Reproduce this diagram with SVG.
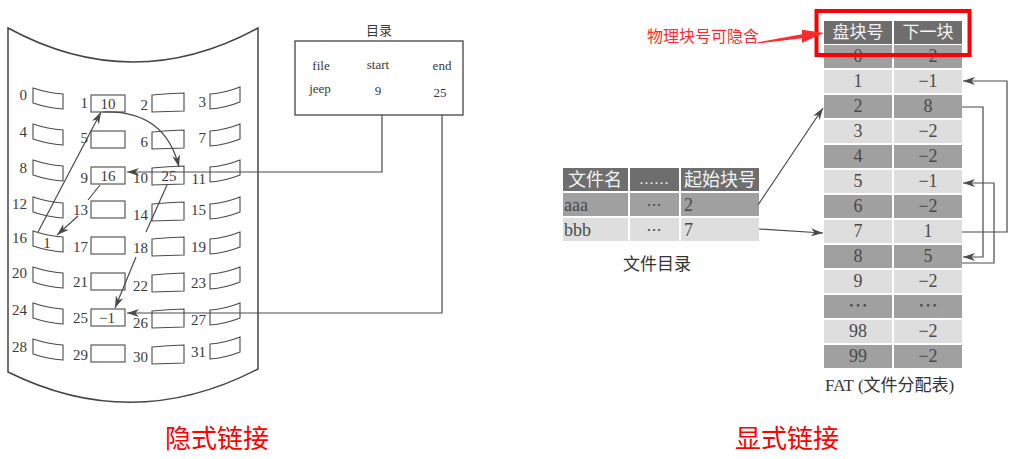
<svg xmlns="http://www.w3.org/2000/svg" width="1016" height="459" viewBox="0 0 1016 459">
<style>
.ln{fill:none;stroke:#4a4a4a;stroke-width:1.2}
.blk{fill:#fff;stroke:#4a4a4a;stroke-width:1.1}
.lab{font-family:"Liberation Serif","Noto Sans CJK SC",serif;font-size:15px;fill:#3a3a3a;text-anchor:end}
.val{font-family:"Liberation Serif","Noto Sans CJK SC",serif;font-size:15px;fill:#3a3a3a;text-anchor:middle}
.dir{font-family:"Liberation Serif","Noto Sans CJK SC",serif;font-size:13px;fill:#3a3a3a;text-anchor:middle}
.hd{fill:#6e6e6e}
.dk{fill:#a0a0a0}
.lt{fill:#dedede}
.ht{font-family:"Noto Sans CJK SC",sans-serif;font-size:17px;fill:#f4f4f4;text-anchor:middle}
.ct{font-family:"Liberation Serif","Noto Sans CJK SC",serif;font-size:18px;fill:#4a4a4a;text-anchor:middle}
.dots{font-family:"Noto Sans CJK SC",sans-serif;font-size:20px;fill:#4a4a4a;text-anchor:middle}
.cap{font-family:"Liberation Serif","Noto Sans CJK SC",serif;font-size:17px;fill:#333}
.red{font-family:"Noto Sans CJK SC",sans-serif;fill:#ff0000}
</style>
<defs>
<marker id="ah" markerUnits="userSpaceOnUse" markerWidth="12" markerHeight="8" refX="12" refY="4" orient="auto"><path d="M0,0 L12,4 L0,8 L3.5,4 Z" fill="#4a4a4a"/></marker>
<path id="b0" d="M0,0 Q15,5 30,6 L30,21 Q15,20 0,15 Z"/>
<path id="b2" d="M0,2 Q16,0.5 32,0 L32,18 Q16,18.5 0,19 Z"/>
<path id="b3" d="M0,7 Q15,6 30,0 L30,15 Q15,21 0,22 Z"/>
</defs>

<g id="disk"><path d="M8,28 Q133,96 258,28 L258,369 Q133,434 8,372 Z" fill="none" stroke="#444" stroke-width="1.5"/></g>

<g id="blk0"><use href="#b0" x="33" y="88" class="blk"/><text class="lab" x="27" y="100">0</text></g>
<g id="blk4"><use href="#b0" x="33" y="124" class="blk"/><text class="lab" x="27" y="137">4</text></g>
<g id="blk8"><use href="#b0" x="33" y="160" class="blk"/><text class="lab" x="27" y="173">8</text></g>
<g id="blk12"><use href="#b0" x="33" y="197" class="blk"/><text class="lab" x="27" y="209">12</text></g>
<g id="blk16"><use href="#b0" x="33" y="231" class="blk"/><text class="lab" x="27" y="243">16</text><text class="val" x="47" y="248">1</text></g>
<g id="blk20"><use href="#b0" x="33" y="267" class="blk"/><text class="lab" x="27" y="278">20</text></g>
<g id="blk24"><use href="#b0" x="33" y="303" class="blk"/><text class="lab" x="27" y="315">24</text></g>
<g id="blk28"><use href="#b0" x="33" y="339" class="blk"/><text class="lab" x="27" y="352">28</text></g>

<g id="blk1"><rect class="blk" x="91" y="95" width="34" height="17"/><text class="lab" x="88" y="108">1</text><text class="val" x="108" y="109">10</text></g>
<g id="blk5"><rect class="blk" x="91" y="131" width="34" height="17"/><text class="lab" x="88" y="143">5</text></g>
<g id="blk9"><rect class="blk" x="91" y="167" width="34" height="17"/><text class="lab" x="88" y="183">9</text><text class="val" x="108" y="181">16</text></g>
<g id="blk13"><rect class="blk" x="91" y="201" width="34" height="17"/><text class="lab" x="88" y="215">13</text></g>
<g id="blk17"><rect class="blk" x="91" y="237" width="34" height="17"/><text class="lab" x="88" y="252">17</text></g>
<g id="blk21"><rect class="blk" x="91" y="273" width="34" height="17"/><text class="lab" x="88" y="287">21</text></g>
<g id="blk25"><rect class="blk" x="91" y="309" width="34" height="17"/><text class="lab" x="88" y="323">25</text><text class="val" x="107" y="323">−1</text></g>
<g id="blk29"><rect class="blk" x="91" y="345" width="34" height="17"/><text class="lab" x="88" y="360">29</text></g>

<g id="blk2"><use href="#b2" x="152" y="93" class="blk"/><text class="lab" x="148" y="110">2</text></g>
<g id="blk6"><use href="#b2" x="152" y="130" class="blk"/><text class="lab" x="148" y="147">6</text></g>
<g id="blk10"><use href="#b2" x="152" y="166" class="blk"/><text class="lab" x="148" y="183">10</text><text class="val" x="169" y="181">25</text></g>
<g id="blk14"><use href="#b2" x="152" y="202" class="blk"/><text class="lab" x="148" y="220">14</text></g>
<g id="blk18"><use href="#b2" x="152" y="237" class="blk"/><text class="lab" x="148" y="253">18</text></g>
<g id="blk22"><use href="#b2" x="152" y="273" class="blk"/><text class="lab" x="148" y="291">22</text></g>
<g id="blk26"><use href="#b2" x="152" y="309" class="blk"/><text class="lab" x="148" y="328">26</text></g>
<g id="blk30"><use href="#b2" x="152" y="345" class="blk"/><text class="lab" x="148" y="362">30</text></g>

<g id="blk3"><use href="#b3" x="210" y="87" class="blk"/><text class="lab" x="206" y="107">3</text></g>
<g id="blk7"><use href="#b3" x="210" y="124" class="blk"/><text class="lab" x="206" y="143">7</text></g>
<g id="blk11"><use href="#b3" x="210" y="160" class="blk"/><text class="lab" x="206" y="184">11</text></g>
<g id="blk15"><use href="#b3" x="210" y="197" class="blk"/><text class="lab" x="206" y="215">15</text></g>
<g id="blk19"><use href="#b3" x="210" y="232" class="blk"/><text class="lab" x="206" y="252">19</text></g>
<g id="blk23"><use href="#b3" x="210" y="267" class="blk"/><text class="lab" x="206" y="288">23</text></g>
<g id="blk27"><use href="#b3" x="210" y="303" class="blk"/><text class="lab" x="206" y="325">27</text></g>
<g id="blk31"><use href="#b3" x="210" y="337" class="blk"/><text class="lab" x="206" y="357">31</text></g>

<g id="directory">
<text class="dir" x="379" y="35">目录</text>
<rect x="295" y="41" width="168" height="74" fill="#fff" stroke="#444" stroke-width="1.3"/>
<text class="dir" x="321" y="70">file</text>
<text class="dir" x="378" y="69">start</text>
<text class="dir" x="442" y="70">end</text>
<text class="dir" x="320" y="93">jeep</text>
<text class="dir" x="378" y="95">9</text>
<text class="dir" x="440" y="97">25</text>
</g>

<g id="filedir">
<rect class="hd" x="563" y="168" width="65" height="23"/>
<rect class="hd" x="630" y="168" width="49" height="23"/>
<rect class="hd" x="681" y="168" width="78" height="23"/>
<rect class="dk" x="563" y="193" width="65" height="23"/>
<rect class="dk" x="630" y="193" width="49" height="23"/>
<rect class="dk" x="681" y="193" width="78" height="23"/>
<rect class="lt" x="563" y="218" width="65" height="23"/>
<rect class="lt" x="630" y="218" width="49" height="23"/>
<rect class="lt" x="681" y="218" width="78" height="23"/>
<text class="ht" x="595" y="186" style="font-size:18px">文件名</text>
<text class="ht" x="654" y="184" style="font-family:'Liberation Serif',serif;font-size:15px">……</text>
<text class="ht" x="720" y="186" style="font-size:18px">起始块号</text>
<text class="ct" x="564" y="211" style="text-anchor:start">aaa</text>
<text class="dots" x="654" y="211" style="font-size:15px">…</text>
<text class="ct" x="684" y="211" style="text-anchor:start">2</text>
<text class="ct" x="564" y="236" style="text-anchor:start">bbb</text>
<text class="dots" x="654" y="236" style="font-size:15px">…</text>
<text class="ct" x="684" y="236" style="text-anchor:start">7</text>
<text class="cap" x="657" y="270" style="text-anchor:middle">文件目录</text>
</g>

<g id="fat">
<rect class="hd" x="824" y="21" width="68" height="23"/><rect class="hd" x="894" y="21" width="68" height="23"/>
<text class="ht" x="858" y="38">盘块号</text><text class="ht" x="928" y="38">下一块</text>
<rect class="dk" x="824" y="45" width="68" height="23"/><rect class="dk" x="894" y="45" width="68" height="23"/>
<text class="ct" x="858" y="62">0</text><text class="ct" x="928" y="62">−2</text>
<rect class="lt" x="824" y="70" width="68" height="23"/><rect class="lt" x="894" y="70" width="68" height="23"/>
<text class="ct" x="858" y="87">1</text><text class="ct" x="928" y="87">−1</text>
<rect class="dk" x="824" y="95" width="68" height="23"/><rect class="dk" x="894" y="95" width="68" height="23"/>
<text class="ct" x="858" y="112">2</text><text class="ct" x="928" y="112">8</text>
<rect class="lt" x="824" y="120" width="68" height="23"/><rect class="lt" x="894" y="120" width="68" height="23"/>
<text class="ct" x="858" y="137">3</text><text class="ct" x="928" y="137">−2</text>
<rect class="dk" x="824" y="145" width="68" height="23"/><rect class="dk" x="894" y="145" width="68" height="23"/>
<text class="ct" x="858" y="162">4</text><text class="ct" x="928" y="162">−2</text>
<rect class="lt" x="824" y="170" width="68" height="23"/><rect class="lt" x="894" y="170" width="68" height="23"/>
<text class="ct" x="858" y="187">5</text><text class="ct" x="928" y="187">−1</text>
<rect class="dk" x="824" y="195" width="68" height="23"/><rect class="dk" x="894" y="195" width="68" height="23"/>
<text class="ct" x="858" y="212">6</text><text class="ct" x="928" y="212">−2</text>
<rect class="lt" x="824" y="220" width="68" height="23"/><rect class="lt" x="894" y="220" width="68" height="23"/>
<text class="ct" x="858" y="237">7</text><text class="ct" x="928" y="237">1</text>
<rect class="dk" x="824" y="245" width="68" height="23"/><rect class="dk" x="894" y="245" width="68" height="23"/>
<text class="ct" x="858" y="262">8</text><text class="ct" x="928" y="262">5</text>
<rect class="lt" x="824" y="270" width="68" height="23"/><rect class="lt" x="894" y="270" width="68" height="23"/>
<text class="ct" x="858" y="287">9</text><text class="ct" x="928" y="287">−2</text>
<rect class="dk" x="824" y="295" width="68" height="23"/><rect class="dk" x="894" y="295" width="68" height="23"/>
<text class="dots" x="858" y="313">…</text><text class="dots" x="928" y="313">…</text>
<rect class="lt" x="824" y="320" width="68" height="23"/><rect class="lt" x="894" y="320" width="68" height="23"/>
<text class="ct" x="858" y="337">98</text><text class="ct" x="928" y="337">−2</text>
<rect class="dk" x="824" y="345" width="68" height="23"/><rect class="dk" x="894" y="345" width="68" height="23"/>
<text class="ct" x="858" y="362">99</text><text class="ct" x="928" y="362">−2</text>
<text class="cap" x="825" y="391">FAT (文件分配表)</text>
</g>

<g id="connectors">
<path class="ln" d="M382,115 V172 H127" marker-end="url(#ah)"/>
<path class="ln" d="M442,115 V313 H127" marker-end="url(#ah)"/>
<path class="ln" d="M103,112 Q165,110 179,167" marker-end="url(#ah)"/>
<path class="ln" d="M38,232 L101,112" marker-end="url(#ah)"/>
<path class="ln" d="M100,185 L88,200"/>
<path class="ln" d="M78,216 L57,235" marker-end="url(#ah)"/>
<path class="ln" d="M167,185 L146,232"/>
<path class="ln" d="M136,257 L115,308" marker-end="url(#ah)"/>
<path class="ln" d="M758,205 L823,108" marker-end="url(#ah)"/>
<path class="ln" d="M759,229 L823,233" marker-end="url(#ah)"/>
<path class="ln" d="M962,107 H983 V257 H963" marker-end="url(#ah)"/>
<path class="ln" d="M962,263 H994 V183 H963" marker-end="url(#ah)"/>
<path class="ln" d="M962,232 H1007 V81 H963" marker-end="url(#ah)"/>
</g>

<g id="annotation">
<rect x="816.5" y="11" width="153" height="44" fill="none" stroke="#ff0000" stroke-width="4"/>
<text class="red" x="647" y="42" style="font-size:16px;fill:#ff2a2a">物理块号可隐含</text>
<polygon points="757,43.5 802,38.3 802,42.8 824,33 802,29.8 802,34.3 757,42.5" fill="#ff2a2a"/>
</g>

<g id="captions">
<text class="red" x="217" y="448" style="font-size:26px;text-anchor:middle">隐式链接</text>
<text class="red" x="787" y="448" style="font-size:26px;text-anchor:middle">显式链接</text>
</g>
</svg>
